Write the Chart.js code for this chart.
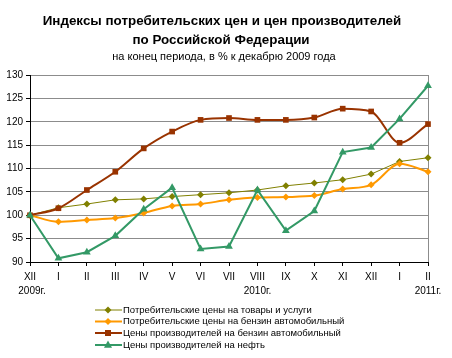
<!DOCTYPE html>
<html>
<head>
<meta charset="utf-8">
<script src="https://cdn.jsdelivr.net/npm/chart.js@4/dist/chart.umd.min.js"></script>
<style>
	body{margin:0;background:#fff;}
	#wrap{width:452px;height:358px;position:relative;}
</style>
</head>
<body>
<div id="wrap"><canvas id="canvas"></canvas></div>
<script>
// месяцы с декабря 2009 по февраль 2011
var months = ["XII","I","II","III","IV","V","VI","VII","VIII","IX","X","XI","XII","I","II"];
var yearLabels = {0:"2009г.", 8:"2010г.", 14:"2011г."};
var yTicks = [90,95,100,105,110,115,120,125,130];

var seriesNames = [
	"Потребительские цены на товары и услуги",
	"Потребительские цены на бензин автомобильный",
	"Цены производителей на бензин автомобильный",
	"Цены производителей на нефть"
];
var cpiAll    = [100,101.6,102.4,103.3,103.5,104.0,104.4,104.8,105.4,106.3,106.9,107.6,108.8,111.5,112.3];
var cpiPetrol = [100,98.6,99.0,99.4,100.5,102.0,102.4,103.3,103.8,103.9,104.2,105.6,106.5,111.0,109.3];
var ppiPetrol = [100,101.5,105.4,109.3,114.3,117.9,120.4,120.8,120.4,120.4,120.9,122.8,122.2,115.5,119.5];
var ppiOil    = [100,90.8,92.1,95.6,101.3,105.9,92.8,93.3,105.4,96.7,100.9,113.5,114.5,120.6,127.7];

var colors = ["#808000","#FF9900","#993300","#339966"];
var lineWidths = [1,2,2,2];
var pointStyles = ["rectRot","rectRot","rect","triangle"];
var pointRadius = [3.5,3.5,4,4.5];
var smooth = [false,true,true,false];

var FONT = "'Liberation Sans', Arial, sans-serif";

var datasets = [];
var allData = [cpiAll, cpiPetrol, ppiPetrol, ppiOil];
for(var i = 0; i < allData.length; i++){
	datasets.push({
		label: seriesNames[i],
		data: allData[i],
		borderColor: colors[i],
		backgroundColor: colors[i],
		borderWidth: lineWidths[i],
		pointStyle: pointStyles[i],
		pointRadius: pointRadius[i],
		pointBorderWidth: 0,
		cubicInterpolationMode: smooth[i] ? "monotone" : "default",
		tension: 0,
		fill: false
	});
}
// нефть поверх остальных — Chart.js рисует первый датасет сверху
datasets.reverse();

var titlePlugin = {
	id: "titles",
	afterDraw: function(chart){
		var c = chart.ctx;
		c.save();
		c.fillStyle = "#000";
		c.textAlign = "center";
		c.textBaseline = "middle";
		c.font = "bold 13.4px " + FONT;
		c.fillText("Индексы потребительских цен и цен производителей", 222, 21);
		c.fillText("по Российской Федерации", 221, 40);
		c.font = "11px " + FONT;
		c.fillText("на конец периода, в % к декабрю 2009 года", 224, 57);

		// подписи годов под месяцами
		var xs = chart.scales.x;
		c.font = "10px " + FONT;
		for(var k in yearLabels){
			var px = xs.getPixelForValue(Number(k));
			if(k == 0){ px += 2; }
			c.fillText(yearLabels[k], px, 291);
		}

		// легенда: линия с маркером
		var rowY = [310, 321.5, 333, 345];
		c.font = "9.5px " + FONT;
		for(var i = 0; i < allData.length; i++){
			var y = rowY[i];
			c.strokeStyle = colors[i];
			c.lineWidth = lineWidths[i] == 1 ? 1 : 2;
			c.beginPath();
			c.moveTo(95, y);
			c.lineTo(122, y);
			c.stroke();
			c.fillStyle = colors[i];
			drawMarker(c, pointStyles[i], 108, y, pointRadius[i]);
			c.fillStyle = "#000";
			c.textAlign = "left";
			c.fillText(seriesNames[i], 123, y);
		}
		c.restore();
	}
};

function drawMarker(c, style, x, y, r){
	c.beginPath();
	if(style == "rectRot"){
		c.moveTo(x, y - r); c.lineTo(x + r, y); c.lineTo(x, y + r); c.lineTo(x - r, y);
	}else if(style == "rect"){
		c.rect(x - r*0.75, y - r*0.75, r*1.5, r*1.5);
	}else{
		c.moveTo(x, y - r); c.lineTo(x + r*0.9, y + r*0.6); c.lineTo(x - r*0.9, y + r*0.6);
	}
	c.closePath();
	c.fill();
}

var canvas = document.getElementById("canvas");
var ctx = canvas.getContext("2d");
var chart = new Chart(ctx, {
	type: "line",
	data: {labels: months, datasets: datasets},
	options: {
		responsive: true,
		maintainAspectRatio: false,
		animation: false,
		layout: {padding: {top: 75, right: 24, bottom: 66, left: 0}},
		plugins: {
			legend: {display: false},
			title: {display: false},
			tooltip: {enabled: false}
		},
		scales: {
			x: {
				offset: false,
				border: {display: true, color: "#000", width: 1},
				grid: {display: true, drawOnChartArea: false, drawTicks: true, tickLength: 4, color: "#000"},
				ticks: {
					autoSkip: false, maxRotation: 0, minRotation: 0, padding: 5,
					color: "#000", font: {family: FONT, size: 10}
				},
				afterFit: function(scale){ scale.height = 30; }
			},
			y: {
				min: 90, max: 130,
				border: {display: true, color: "#000", width: 1},
				grid: {color: "#8c8c8c", lineWidth: 1, drawTicks: true, tickLength: 4, tickColor: "#000"},
				ticks: {
					stepSize: 5, color: "#000", padding: 3,
					font: {family: FONT, size: 10},
					callback: function(v){ return yTicks.indexOf(v) >= 0 ? v : ""; }
				},
				afterFit: function(scale){ scale.width = 30; }
			}
		}
	},
	plugins: [titlePlugin, {
		id: "frame",
		beforeDatasetsDraw: function(chart){
			var a = chart.chartArea, c = chart.ctx;
			c.save();
			c.strokeStyle = "#8c8c8c";
			c.lineWidth = 1;
			c.beginPath();
			c.moveTo(a.right + 0.5, a.top);
			c.lineTo(a.right + 0.5, a.bottom);
			c.stroke();
			c.restore();
		}
	}]
});
</script>
</body>
</html>
